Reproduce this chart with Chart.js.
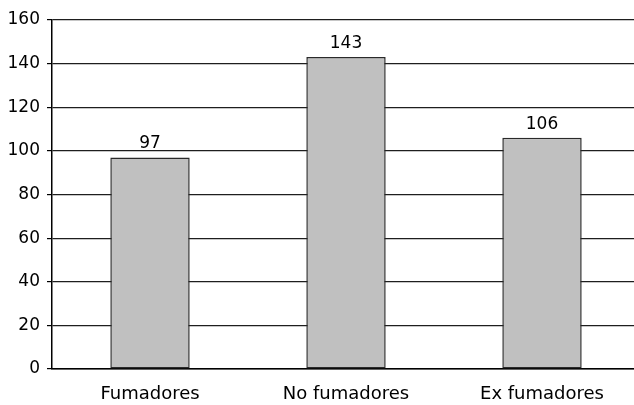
<!DOCTYPE html>
<html>
<head>
<meta charset="utf-8">
<script src="https://cdn.jsdelivr.net/npm/chart.js@4/dist/chart.umd.min.js"></script>
<style>
  html, body { margin: 0; padding: 0; background: #fff; overflow: hidden; }
  #wrap { position: relative; width: 641px; height: 405px; }
</style>
</head>
<body>
<div id="wrap"><canvas id="c"></canvas></div>
<script>
const categories = ['Fumadores', 'No fumadores', 'Ex fumadores'];
const values = [97, 143, 106];
const yTicks = [0, 20, 40, 60, 80, 100, 120, 140, 160];

const FONT = '"DejaVu Sans", Verdana, sans-serif';

// Writes each bar's value just above it
const valueLabels = {
  id: 'valueLabels',
  afterDatasetsDraw(chart) {
    const ctx = chart.ctx;
    const meta = chart.getDatasetMeta(0);
    ctx.save();
    ctx.font = '17px ' + FONT;
    ctx.fillStyle = '#000';
    ctx.textAlign = 'center';
    ctx.textBaseline = 'alphabetic';
    meta.data.forEach((bar, i) => {
      ctx.fillText(String(values[i]), bar.x, bar.y - 9);
    });
    ctx.restore();
  }
};

new Chart(document.getElementById('c'), {
  type: 'bar',
  data: {
    labels: categories,
    datasets: [{
      data: values,
      backgroundColor: '#c0c0c0',
      borderColor: '#2a2a2a',
      borderWidth: 1.5,
      borderSkipped: false,
      barPercentage: 0.81,
      categoryPercentage: 0.5
    }]
  },
  options: {
    responsive: true,
    maintainAspectRatio: false,
    animation: false,
    layout: { padding: { top: 20, right: 1, left: 0, bottom: 0 } },
    plugins: { legend: { display: false }, tooltip: { enabled: false } },
    scales: {
      x: {
        grid: { display: false, drawTicks: false },
        border: { display: true, color: '#000', width: 1.5 },
        ticks: { color: '#000', font: { family: FONT, size: 18 }, padding: 15, maxRotation: 0 },
        afterFit(scale) { scale.height = 36; }
      },
      y: {
        min: 0,
        max: 160,
        afterBuildTicks(scale) { scale.ticks = yTicks.map(v => ({ value: v })); },
        grid: { color: '#1e1e1e', lineWidth: 1.2, tickLength: 5, tickColor: '#000' },
        border: { display: true, color: '#000', width: 1.5 },
        ticks: { color: '#000', font: { family: FONT, size: 17 }, padding: 7 },
        afterFit(scale) { scale.width = 52; }
      }
    }
  },
  plugins: [valueLabels]
});
</script>
</body>
</html>
